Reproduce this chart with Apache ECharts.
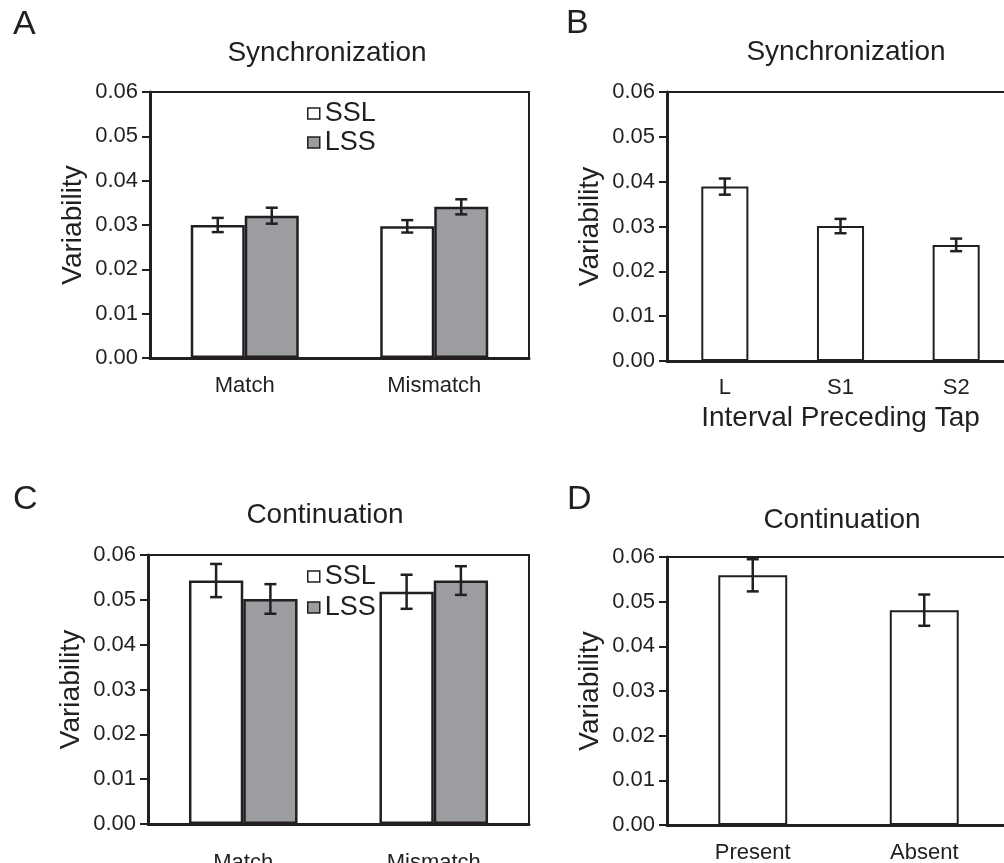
<!DOCTYPE html>
<html>
<head>
<meta charset="utf-8">
<script src="https://cdn.jsdelivr.net/npm/echarts@6/dist/echarts.min.js"></script>
<style>
  html, body { margin: 0; padding: 0; background: #fff; }
  #chart { width: 1004px; height: 863px; }
</style>
</head>
<body>
<div id="chart"></div>
<script>
// panel A - synchronization, SSL vs LSS
const catsA = ['Match', 'Mismatch'];
const syncSSL = [0.0300, 0.0297];
const syncSSLErr = [0.0016, 0.0014];
const syncLSS = [0.0321, 0.0341];
const syncLSSErr = [0.0018, 0.0017];

// panel B - synchronization by interval preceding tap
const catsB = ['L', 'S1', 'S2'];
const syncTap = [0.0389, 0.0301, 0.0259];
const syncTapErr = [0.0018, 0.0016, 0.0014];

// panel C - continuation, SSL vs LSS
const catsC = ['Match', 'Mismatch'];
const contSSL = [0.0543, 0.0518];
const contSSLErr = [0.0037, 0.0038];
const contLSS = [0.0502, 0.0543];
const contLSSErr = [0.0033, 0.0032];

// panel D - continuation
const catsD = ['Present', 'Absent'];
const contCue = [0.0559, 0.0481];
const contCueErr = [0.0036, 0.0035];

const yMin = 0, yMax = 0.06, yStep = 0.01;

const ink = '#231f20';
const grey = '#9c9da0';
const font = "'Liberation Sans', Arial, sans-serif";

function makeX(gridIndex, cats, labelMargin, name) {
    return {
        type: 'category',
        gridIndex: gridIndex,
        data: cats,
        name: name || '',
        nameLocation: 'middle',
        nameGap: 43,
        nameTextStyle: { fontSize: 28, color: ink, fontFamily: font },
        axisLine: { lineStyle: { color: ink, width: 3 } },
        axisTick: { length: 7, lineStyle: { color: ink, width: 2.5 } },
        axisLabel: { color: ink, fontSize: 22, fontFamily: font, margin: labelMargin, interval: 0 },
        splitLine: { show: false }
    };
}

function makeY(gridIndex) {
    return {
        type: 'value',
        gridIndex: gridIndex,
        min: yMin,
        max: yMax,
        interval: yStep,
        name: 'Variability',
        nameLocation: 'middle',
        nameGap: 63,
        nameTextStyle: { fontSize: 28, color: ink, fontFamily: font },
        axisLine: { show: true, lineStyle: { color: ink, width: 3 } },
        axisTick: { show: true, length: 8, lineStyle: { color: ink, width: 2 } },
        axisLabel: {
            color: ink, fontSize: 22, fontFamily: font, margin: 12,
            formatter: function (v) { return v.toFixed(2); }
        },
        splitLine: { show: false }
    };
}

function makeBar(name, idx, values, fill, width, border) {
    return {
        name: name,
        type: 'bar',
        xAxisIndex: idx,
        yAxisIndex: idx,
        data: values,
        barWidth: width,
        barGap: '0%',
        itemStyle: { color: fill, borderColor: ink, borderWidth: border },
        emphasis: { disabled: true },
        z: 2
    };
}

// error bars, offset is a fraction of the category band
function makeErr(idx, values, errs, offset) {
    return {
        type: 'custom',
        xAxisIndex: idx,
        yAxisIndex: idx,
        data: values.map(function (v, i) { return [i, v, errs[i]]; }),
        renderItem: function (params, api) {
            const i = api.value(0), v = api.value(1), e = api.value(2);
            const band = api.size([1, 0])[0];
            const x = api.coord([i, v])[0] + offset * band;
            const hi = api.coord([i, v + e])[1];
            const lo = api.coord([i, v - e])[1];
            const cap = 6;
            const st = { stroke: ink, lineWidth: 2.5 };
            return {
                type: 'group',
                children: [
                    { type: 'line', shape: { x1: x, y1: hi, x2: x, y2: lo }, style: st },
                    { type: 'line', shape: { x1: x - cap, y1: hi, x2: x + cap, y2: hi }, style: st },
                    { type: 'line', shape: { x1: x - cap, y1: lo, x2: x + cap, y2: lo }, style: st }
                ]
            };
        },
        silent: true,
        z: 5
    };
}

function txt(s, x, y, size, align) {
    return {
        type: 'text', x: x, y: y, silent: true,
        style: { text: s, fill: ink, font: size + 'px ' + font, textAlign: align || 'left', textVerticalAlign: 'middle' }
    };
}

const gridBox = { show: true, borderColor: ink, borderWidth: 2, backgroundColor: 'transparent', outerBoundsMode: 'none', containLabel: false };

let option = {
    animation: false,
    backgroundColor: '#fff',
    textStyle: { fontFamily: font, color: ink },
    grid: [
        Object.assign({ left: 150, top: 92, width: 379, height: 266 }, gridBox),
        Object.assign({ left: 667, top: 92, width: 347, height: 269 }, gridBox),
        Object.assign({ left: 148, top: 555, width: 381, height: 269 }, gridBox),
        Object.assign({ left: 667, top: 557, width: 343, height: 268 }, gridBox)
    ],
    xAxis: [
        makeX(0, catsA, 17),
        makeX(1, catsB, 16, 'Interval Preceding Tap'),
        makeX(2, catsC, 28),
        makeX(3, catsD, 17)
    ],
    yAxis: [makeY(0), makeY(1), makeY(2), makeY(3)],
    legend: [
        {
            orient: 'vertical', left: 307, top: 100, padding: 0, itemWidth: 12, itemHeight: 11, itemGap: 2,
            icon: 'rect', selectedMode: false,
            itemStyle: { borderWidth: 1.5, borderColor: ink },
            textStyle: { fontSize: 27, color: ink, fontFamily: font },
            data: ['SSL', 'LSS']
        },
        {
            orient: 'vertical', left: 307, top: 563, padding: 0, itemWidth: 12, itemHeight: 11, itemGap: 4,
            icon: 'rect', selectedMode: false,
            itemStyle: { borderWidth: 1.5, borderColor: ink },
            textStyle: { fontSize: 27, color: ink, fontFamily: font },
            data: ['SSL', 'LSS']
        }
    ],
    graphic: [
        txt('A', 13, 24.5, 34),
        txt('B', 566, 23.5, 34),
        txt('C', 13, 500, 34),
        txt('D', 567, 500, 34),
        txt('Synchronization', 327, 53, 28, 'center'),
        txt('Synchronization', 846, 52, 28, 'center'),
        txt('Continuation', 325, 515.5, 28, 'center'),
        txt('Continuation', 842, 520, 28, 'center')
    ],
    series: [
        makeBar('SSL', 0, syncSSL, '#fff', '28.5%', 2.5),
        makeBar('LSS', 0, syncLSS, grey, '28.5%', 2.5),
        makeErr(0, syncSSL, syncSSLErr, -0.1425),
        makeErr(0, syncLSS, syncLSSErr, 0.1425),

        makeBar('tap', 1, syncTap, '#fff', '40.7%', 2),
        makeErr(1, syncTap, syncTapErr, 0),

        makeBar('SSL', 2, contSSL, '#fff', '28.5%', 2.5),
        makeBar('LSS', 2, contLSS, grey, '28.5%', 2.5),
        makeErr(2, contSSL, contSSLErr, -0.1425),
        makeErr(2, contLSS, contLSSErr, 0.1425),

        makeBar('cue', 3, contCue, '#fff', '40.2%', 2),
        makeErr(3, contCue, contCueErr, 0)
    ]
};

var chart = echarts.init(document.getElementById('chart'));
chart.setOption(option);
</script>
</body>
</html>
